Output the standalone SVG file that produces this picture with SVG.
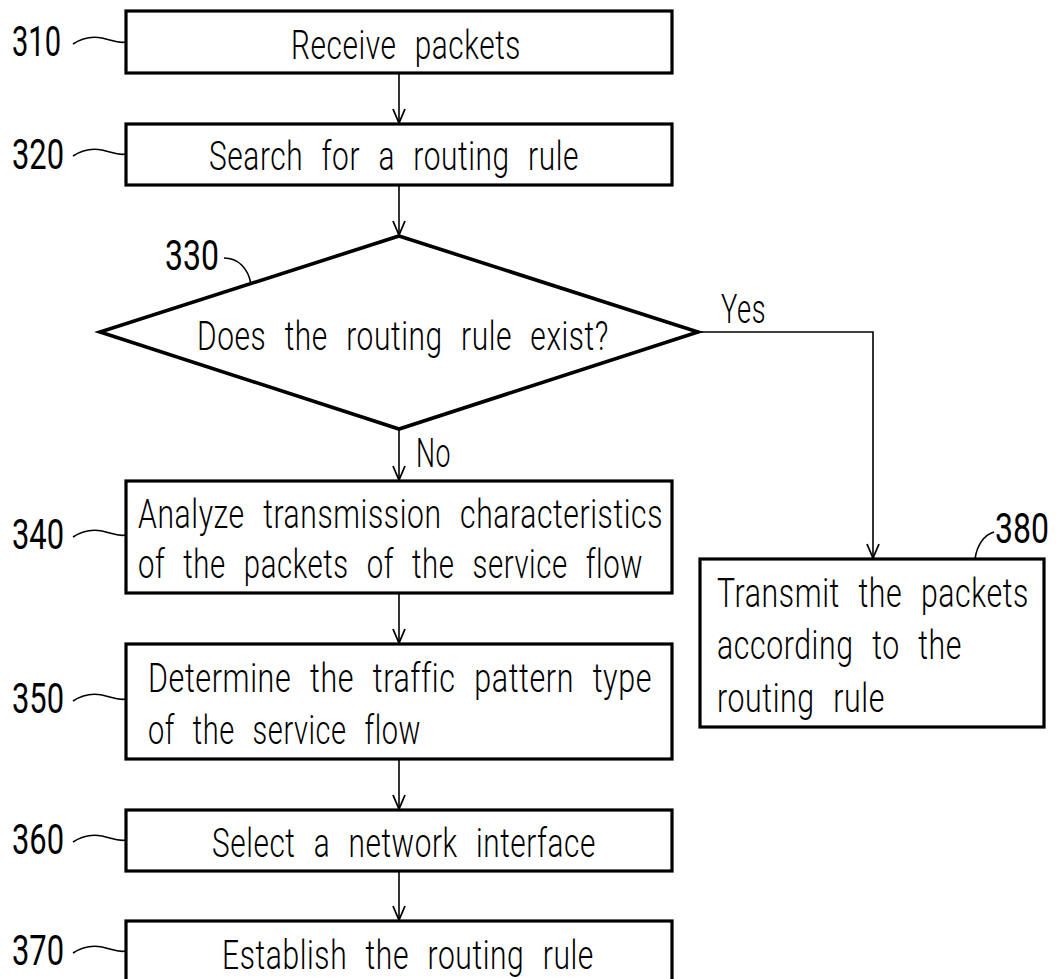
<svg xmlns="http://www.w3.org/2000/svg" width="1056" height="979" viewBox="0 0 1056 979">
<defs>
<style>
.box{fill:#fff;stroke:#000;stroke-width:3.2}
.dia{fill:#fff;stroke:#000;stroke-width:3.6;stroke-linejoin:miter}
.t{font-family:"Roboto","Liberation Sans",sans-serif;font-weight:300;font-size:40px;word-spacing:0.35em;letter-spacing:0.02em;fill:#000}
.lbl{font-family:"Roboto","Liberation Sans",sans-serif;font-weight:400;font-size:43px;fill:#000}
.ln{fill:none;stroke:#000;stroke-width:1.6}
.lead{fill:none;stroke:#000;stroke-width:1.6}
</style>
<marker id="arr" viewBox="0 0 16 14" refX="15" refY="7" markerWidth="16" markerHeight="14" markerUnits="userSpaceOnUse" orient="auto">
<path d="M1,1 L15,7 L1,13" fill="none" stroke="#000" stroke-width="1.8"/>
</marker>
</defs>
<rect width="1056" height="979" fill="#fff"/>
<g id="connectors">
<line class="ln" x1="399" y1="73" x2="399" y2="123" marker-end="url(#arr)"/>
<line class="ln" x1="399" y1="185" x2="399" y2="235" marker-end="url(#arr)"/>
<line class="ln" x1="399" y1="430" x2="399" y2="480" marker-end="url(#arr)"/>
<polyline class="ln" points="698,332 873,332 873,558" marker-end="url(#arr)"/>
<line class="ln" x1="399" y1="594" x2="399" y2="643" marker-end="url(#arr)"/>
<line class="ln" x1="399" y1="760" x2="399" y2="809" marker-end="url(#arr)"/>
<line class="ln" x1="399" y1="872" x2="399" y2="920" marker-end="url(#arr)"/>
<text class="t" transform="translate(721,323) scale(0.78,1)" textLength="57.7" lengthAdjust="spacingAndGlyphs">Yes</text>
<text class="t" transform="translate(416,467) scale(0.78,1)" textLength="44.9" lengthAdjust="spacingAndGlyphs">No</text>
</g>
<g id="n310">
<rect class="box" x="126" y="11" width="546" height="62"/>
<text class="t" transform="translate(291,59) scale(0.78,1)" textLength="294.9" lengthAdjust="spacingAndGlyphs">Receive packets</text>
<text class="lbl" transform="translate(12,56) scale(0.78,1)" textLength="62.8" lengthAdjust="spacingAndGlyphs">310</text>
<path class="lead" d="M73,44 C82,38 92,36 102,38 C112,40 118,44 126,42"/>
</g>
<g id="n320">
<rect class="box" x="126" y="124" width="546" height="61"/>
<text class="t" transform="translate(209,170) scale(0.78,1)" textLength="474.4" lengthAdjust="spacingAndGlyphs">Search for a routing rule</text>
<text class="lbl" transform="translate(12,169) scale(0.78,1)" textLength="66.7" lengthAdjust="spacingAndGlyphs">320</text>
<path class="lead" d="M73,156 C82,150 92,148 102,150 C112,152 118,156 126,154"/>
</g>
<g id="n330">
<polygon class="dia" points="399,236 698,332 399,429 100,332"/>
<text class="t" transform="translate(197,350) scale(0.78,1)" textLength="528.2" lengthAdjust="spacingAndGlyphs">Does the routing rule exist?</text>
<text class="lbl" transform="translate(165,270) scale(0.78,1)" textLength="69.2" lengthAdjust="spacingAndGlyphs">330</text>
<path class="lead" d="M224,258 C238,258 248,268 251,284"/>
</g>
<g id="n340">
<rect class="box" x="126" y="481" width="546" height="112"/>
<text class="t" transform="translate(138,528) scale(0.78,1)" textLength="673.1" lengthAdjust="spacingAndGlyphs">Analyze transmission characteristics</text>
<text class="t" transform="translate(138,578) scale(0.78,1)" textLength="647.4" lengthAdjust="spacingAndGlyphs">of the packets of the service flow</text>
<text class="lbl" transform="translate(12,549) scale(0.78,1)" textLength="66.7" lengthAdjust="spacingAndGlyphs">340</text>
<path class="lead" d="M73,537 C82,531 92,529 102,531 C112,533 118,537 126,535"/>
</g>
<g id="n350">
<rect class="box" x="126" y="644" width="546" height="115"/>
<text class="t" transform="translate(148,692) scale(0.78,1)" textLength="646.2" lengthAdjust="spacingAndGlyphs">Determine the traffic pattern type</text>
<text class="t" transform="translate(148,744) scale(0.78,1)" textLength="350" lengthAdjust="spacingAndGlyphs">of the service flow</text>
<text class="lbl" transform="translate(12,713) scale(0.78,1)" textLength="66.7" lengthAdjust="spacingAndGlyphs">350</text>
<path class="lead" d="M73,701 C82,695 92,693 102,695 C112,697 118,701 126,699"/>
</g>
<g id="n360">
<rect class="box" x="126" y="810" width="546" height="61"/>
<text class="t" transform="translate(212,857) scale(0.78,1)" textLength="492.3" lengthAdjust="spacingAndGlyphs">Select a network interface</text>
<text class="lbl" transform="translate(12,854) scale(0.78,1)" textLength="66.7" lengthAdjust="spacingAndGlyphs">360</text>
<path class="lead" d="M73,842 C82,836 92,834 102,836 C112,838 118,842 126,840"/>
</g>
<g id="n370">
<rect class="box" x="126" y="921" width="546" height="70"/>
<text class="t" transform="translate(222,969) scale(0.78,1)" textLength="476.9" lengthAdjust="spacingAndGlyphs">Establish the routing rule</text>
<text class="lbl" transform="translate(12,965) scale(0.78,1)" textLength="66.7" lengthAdjust="spacingAndGlyphs">370</text>
<path class="lead" d="M73,953 C82,947 92,945 102,947 C112,949 118,953 126,951"/>
</g>
<g id="n380">
<rect class="box" x="700" y="559" width="344" height="168"/>
<text class="t" transform="translate(717,607) scale(0.78,1)" textLength="400" lengthAdjust="spacingAndGlyphs">Transmit the packets</text>
<text class="t" transform="translate(717,659) scale(0.78,1)" textLength="314.1" lengthAdjust="spacingAndGlyphs">according to the</text>
<text class="t" transform="translate(717,712) scale(0.78,1)" textLength="215.4" lengthAdjust="spacingAndGlyphs">routing rule</text>
<text class="lbl" transform="translate(995,543) scale(0.78,1)" textLength="69.2" lengthAdjust="spacingAndGlyphs">380</text>
<path class="lead" d="M975,559 C977,545 984,535 994,532"/>
</g>
</svg>
